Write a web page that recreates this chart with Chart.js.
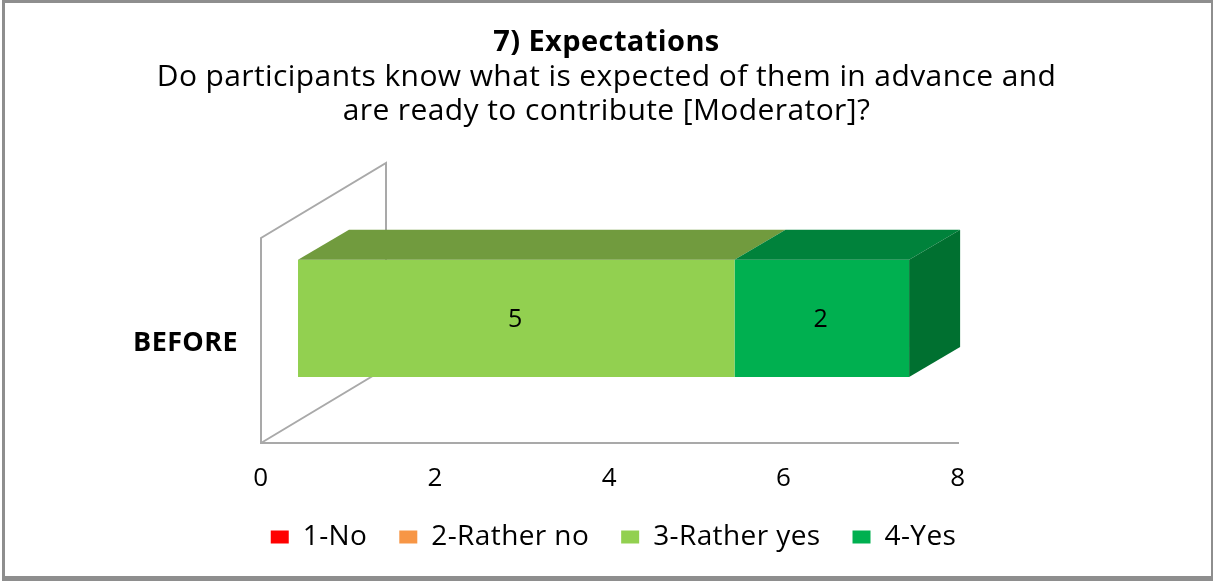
<!DOCTYPE html>
<html>
<head>
<meta charset="utf-8">
<title>7) Expectations</title>
<script src="https://cdn.jsdelivr.net/npm/chart.js@4"></script>
<style>
  html, body { margin: 0; padding: 0; background: #fff; }
  canvas { display: block; }
</style>
</head>
<body>
<canvas id="myChart" width="1213" height="581"></canvas>
<script>
const categories = ['BEFORE'];
const seriesNames = ['1-No', '2-Rather no', '3-Rather yes', '4-Yes'];
const noValues = [0];
const ratherNoValues = [0];
const ratherYesValues = [5];
const yesValues = [2];
const titleText = '7) Expectations';
const subtitleLines = [
  'Do participants know what is expected of them in advance and',
  'are ready to contribute [Moderator]?'
];

const fontName = '"Open Sans", sans-serif';
const wallColor = '#a9a9a9';
const frameColor = '#8e8e8e';

// the bars sit in front of the axis, so they get their own hidden scale
const barDepth = { x: 51, y: -30 };
const wallDepth = { x: 125, y: -75 };

function face(ctx, points, color) {
  ctx.beginPath();
  points.forEach((p, i) => i ? ctx.lineTo(p[0], p[1]) : ctx.moveTo(p[0], p[1]));
  ctx.closePath();
  ctx.fillStyle = color;
  ctx.fill();
}

const frame3d = {
  id: 'frame3d',
  beforeLayout(chart) {
    chart.ctx.letterSpacing = '0.4px';
  },
  afterLayout(chart) {
    chart.legend.left += 7;
    chart.legend.right += 7;
  },
  beforeDraw(chart) {
    const c = chart.ctx;
    c.letterSpacing = '0.4px';
    c.save();
    c.fillStyle = frameColor;
    c.fillRect(2, 0, 1211, 3);
    c.fillRect(2, 0, 3, 581);
    c.fillRect(1211, 0, 2, 581);
    c.fillRect(2, 576, 1211, 5);
    c.restore();
  },
  beforeDatasetsDraw(chart) {
    const c = chart.ctx;
    const a = chart.chartArea;
    const x0 = chart.scales.x.getPixelForValue(0);
    const top = 238;
    c.save();
    c.strokeStyle = wallColor;
    c.lineWidth = 2;
    c.beginPath();
    c.moveTo(x0, a.bottom);
    c.lineTo(x0, top);
    c.lineTo(x0 + wallDepth.x, top + wallDepth.y);
    c.lineTo(x0 + wallDepth.x, a.bottom + wallDepth.y);
    c.lineTo(x0, a.bottom);
    c.stroke();
    c.restore();
  },
  afterDatasetsDraw(chart) {
    const c = chart.ctx;
    const last = chart.data.datasets.length - 1;
    c.save();
    chart.data.datasets.forEach((ds, i) => {
      chart.getDatasetMeta(i).data.forEach((bar, j) => {
        if (!ds.data[j]) return;
        const y = bar.y - bar.height / 2;
        face(c, [
          [bar.base, y],
          [bar.x, y],
          [bar.x + barDepth.x, y + barDepth.y],
          [bar.base + barDepth.x, y + barDepth.y]
        ], ds.topColor);
        if (i === last) {
          face(c, [
            [bar.x, y],
            [bar.x + barDepth.x, y + barDepth.y],
            [bar.x + barDepth.x, y + bar.height + barDepth.y],
            [bar.x, y + bar.height]
          ], ds.sideColor);
        }
        const mid = bar.getCenterPoint();
        c.fillStyle = '#000';
        c.font = '25px ' + fontName;
        c.textAlign = 'center';
        c.textBaseline = 'middle';
        c.fillText(ds.data[j], mid.x - 1, mid.y + 2);
      });
    });
    c.restore();
  }
};

const ctx = document.getElementById('myChart');

new Chart(ctx, {
  type: 'bar',
  plugins: [frame3d],
  data: {
    labels: categories,
    datasets: [
      { label: seriesNames[0], data: noValues, backgroundColor: '#FF0000', topColor: '#b00000', sideColor: '#9a0000' },
      { label: seriesNames[1], data: ratherNoValues, backgroundColor: '#F79646', topColor: '#b96f33', sideColor: '#a0602c' },
      { label: seriesNames[2], data: ratherYesValues, backgroundColor: '#92D050', topColor: '#719B3E', sideColor: '#618a34' },
      { label: seriesNames[3], data: yesValues, backgroundColor: '#00B050', topColor: '#00823B', sideColor: '#007030' }
    ].map(ds => ({ ...ds, xAxisID: 'xBar', yAxisID: 'y', barPercentage: 1, categoryPercentage: 117 / 249, borderWidth: 0 }))
  },
  options: {
    indexAxis: 'y',
    responsive: false,
    animation: false,
    devicePixelRatio: 1,
    layout: { padding: { left: 0, right: 0, top: 25, bottom: 20 } },
    scales: {
      x: {
        type: 'linear',
        min: 0,
        max: 8,
        ticks: { stepSize: 2, color: '#000', padding: 12, maxRotation: 0, font: { family: fontName, size: 26 } },
        grid: { display: false },
        border: { color: wallColor, width: 2 },
        afterFit(s) { s.height = 48; }
      },
      xBar: {
        type: 'linear',
        display: false,
        stacked: true,
        min: -0.424,
        max: 7.56
      },
      y: {
        type: 'category',
        stacked: true,
        ticks: { color: '#000', padding: 15, labelOffset: 25, font: { family: fontName, size: 27, weight: 'bold' } },
        grid: { display: false },
        border: { display: false },
        afterFit(s) { s.width = 261; }
      },
      rightGap: {
        type: 'linear',
        position: 'right',
        ticks: { display: false },
        grid: { display: false },
        border: { display: false },
        afterFit(s) { s.width = 255; }
      }
    },
    plugins: {
      title: {
        display: true,
        text: titleText,
        color: '#000',
        font: { family: fontName, size: 29, weight: 'bold' },
        padding: { top: 0, bottom: 1 }
      },
      subtitle: {
        display: true,
        text: subtitleLines,
        color: '#000',
        font: { family: fontName, size: 30, weight: 'normal', lineHeight: 1.13 },
        padding: { top: 0, bottom: 65 }
      },
      legend: {
        position: 'bottom',
        labels: {
          boxWidth: 18,
          boxHeight: 13,
          color: '#000',
          padding: 32,
          font: { family: fontName, size: 28 }
        }
      },
      tooltip: { enabled: false }
    }
  }
});
</script>
</body>
</html>
